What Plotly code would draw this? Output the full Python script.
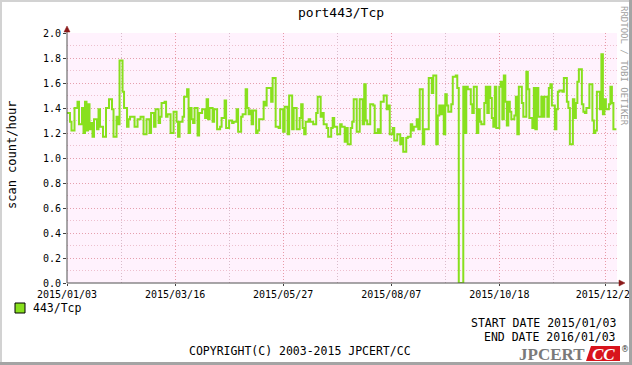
import pandas as pd
import plotly.graph_objects as go

# ---- data (day offset from 2015/01/03 where a step starts, value) ----
step_days = [0,2,3,5,7,8,10,11,12,13,14,15,16,17,18,20,21,22,24,26,28,30,31,33,34,35,37,38,40,41,42,45,47,49,51,53,55,56,58,59,61,62,
             63,65,66,67,69,71,73,74,75,77,78,80,81,82,83,84,85,87,88,90,92,93,94,95,97,98,100,102,103,105,106,108,110,111,113,114,116,117,119,120,121,122,123,
             124,126,127,128,131,132,133,136,137,139,141,142,144,145,147,148,150,151,153,155,156,157,158,159,161,162,164,166,167,169,170,171,173,174,176,177,178,180,182,183,185,
             186,187,189,190,191,193,195,197,198,199,200,202,204,205,207,208,209,211,213,214,215,217,218,220,222,223,224,226,227,229,230,231,233,234,235,237,238,239,241,243,244,246,247,
             248,249,250,251,252,253,254,256,257,259,260,261,264,265,266,267,269,270,271,273,274,275,276,278,279,280,281,282,283,284,285,286,288,289,290,291,292,293,294,295,296,298,299,300,301,303,304,306,307,308,310,
             311,312,313,314,316,317,318,320,321,322,323,325,326,327,328,330,331,333,334,335,337,338,339,340,341,343,344,345,346,348,350,351,352,353,355,356,357,358,359,361,362,363,364,366]
step_values = [1.36,1.29,1.22,1.40,1.45,1.27,1.40,1.20,1.45,1.22,1.43,1.23,1.28,1.17,1.31,1.23,1.39,1.25,1.17,1.40,1.47,1.39,1.17,1.33,1.27,1.78,1.53,1.40,1.25,1.31,1.33,1.25,1.31,1.33,1.19,1.31,1.20,1.36,1.25,1.39,1.28,1.33,
               1.44,1.45,1.33,1.35,1.20,1.37,1.29,1.17,1.29,1.33,1.49,1.55,1.20,1.40,1.31,1.28,1.40,1.18,1.36,1.39,1.32,1.47,1.31,1.40,1.29,1.39,1.23,1.25,1.32,1.46,1.24,1.30,1.28,1.29,1.39,1.21,1.33,1.35,1.55,1.40,1.35,1.38,1.27,
               1.38,1.20,1.22,1.31,1.45,1.42,1.56,1.45,1.64,1.25,1.24,1.39,1.21,1.41,1.19,1.50,1.23,1.40,1.23,1.32,1.43,1.24,1.19,1.29,1.31,1.29,1.27,1.36,1.49,1.33,1.36,1.27,1.24,1.17,1.24,1.32,1.25,1.19,1.27,1.25,1.13,
               1.24,1.11,1.24,1.29,1.47,1.21,1.47,1.27,1.59,1.30,1.27,1.43,1.42,1.20,1.23,1.20,1.45,1.50,1.39,1.42,1.19,1.24,1.14,1.19,1.11,1.16,1.05,1.16,1.17,1.27,1.22,1.25,1.31,1.23,1.55,1.11,1.23,1.23,1.64,1.52,1.66,1.11,1.34,
               1.42,1.35,1.42,1.19,1.51,1.42,1.37,1.43,1.65,1.66,1.56,0.0,1.57,1.20,1.57,1.55,1.43,1.36,1.57,1.20,1.39,1.29,1.27,1.44,1.57,1.36,1.57,1.48,1.32,1.25,1.57,1.24,1.57,1.61,1.31,1.66,1.45,1.26,1.45,1.37,1.31,1.34,1.49,1.19,1.57,1.44,1.33,1.69,1.55,1.32,1.24,
               1.56,1.23,1.56,1.33,1.49,1.33,1.49,1.33,1.56,1.59,1.42,1.23,1.39,1.53,1.54,1.53,1.64,1.45,1.40,1.11,1.47,1.32,1.44,1.61,1.71,1.43,1.37,1.36,1.40,1.59,1.30,1.20,1.22,1.53,1.39,1.83,1.35,1.47,1.39,1.43,1.57,1.44,1.23,1.23]

start_date = "2015-01-03"
x_tick_dates = ["2015-01-03", "2015-03-16", "2015-05-27", "2015-08-07", "2015-10-18", "2015-12-28"]
x_tick_labels = ["2015/01/03", "2015/03/16", "2015/05/27", "2015/08/07", "2015/10/18", "2015/12/28"]
x_minor_dates = ["2015-02-08", "2015-04-21", "2015-07-02", "2015-09-12", "2015-11-23"]
y_tick_vals = [0.0, 0.2, 0.4, 0.6, 0.8, 1.0, 1.2, 1.4, 1.6, 1.8, 2.0]
y_tick_labels = ["0.0", "0.2", "0.4", "0.6", "0.8", "1.0", "1.2", "1.4", "1.6", "1.8", "2.0"]

series_name = "443/Tcp"
title_text = "port443/Tcp"

base = pd.Timestamp(start_date)
xs = [base + pd.Timedelta(days=d) for d in step_days]

W, H = 632, 365
L, R, T, B = 67, 617, 33, 283
PW, PH = R - L, B - T


def px(x):
    return (x - L) / PW


def py(y):
    return (B - y) / PH


MONO = "DejaVu Sans Mono"
GREEN = "#88E01E"

fig = go.Figure()
fig.add_trace(go.Scatter(x=xs, y=step_values, mode="lines", line=dict(color=GREEN, width=2, shape="hv"),
                         name=series_name, showlegend=False, hoverinfo="skip"))

fig.update_layout(
    width=W, height=H, autosize=False,
    margin=dict(l=L, r=W - R, t=T, b=H - B, pad=0, autoexpand=False),
    paper_bgcolor="white",
    plot_bgcolor="#FFF2FD",
    font=dict(family=MONO, size=10, color="black"),
    showlegend=False,
)

fig.update_xaxes(
    type="date", automargin=False,
    range=[base, base + pd.Timedelta(days=366.4)],
    tickvals=x_tick_dates, ticktext=x_tick_labels,
    tickfont=dict(family=MONO, size=10, color="black"),
    ticks="outside", ticklen=2, tickcolor="#404040",
    ticklabeloverflow="allow",
    showgrid=True, gridcolor="#E89AA8", griddash="1px,2px", gridwidth=1,
    minor=dict(tickvals=x_minor_dates, showgrid=True, gridcolor="#D9BCCB", griddash="1px,2px", ticks=""),
    showline=False, zeroline=False, fixedrange=True,
)
fig.update_yaxes(
    range=[0, 2.0], automargin=False,
    tickvals=y_tick_vals, ticktext=y_tick_labels,
    tickfont=dict(family=MONO, size=10, color="black"),
    ticks="outside", ticklen=3, tickcolor="#404040",
    showgrid=True, gridcolor="#E6A0AE", griddash="1px,2px", gridwidth=1,
    minor=dict(dtick=0.1, showgrid=True, gridcolor="#EDC0CE", griddash="1px,2px", ticks=""),
    showline=False, zeroline=False, fixedrange=True,
)

shapes = []
# axes lines
shapes.append(dict(type="line", xref="paper", yref="paper", x0=0, x1=0, y0=0, y1=py(28),
                   line=dict(color="#505050", width=1), layer="above"))
shapes.append(dict(type="line", xref="paper", yref="paper", x0=0, x1=px(622), y0=0, y1=0,
                   line=dict(color="#505050", width=1), layer="above"))
# arrows
shapes.append(dict(type="path", xref="paper", yref="paper",
                   path=f"M {px(64)} {py(32)} L {px(70)} {py(32)} L {px(67)} {py(26)} Z",
                   fillcolor="#8B1A1A", line=dict(color="#8B1A1A", width=0.5), layer="above"))
shapes.append(dict(type="path", xref="paper", yref="paper",
                   path=f"M {px(619)} {py(280)} L {px(619)} {py(286)} L {px(625)} {py(283)} Z",
                   fillcolor="#8B1A1A", line=dict(color="#8B1A1A", width=0.5), layer="above"))
# legend swatch
shapes.append(dict(type="rect", xref="paper", yref="paper", x0=px(15), x1=px(25), y0=py(313), y1=py(303),
                   fillcolor=GREEN, line=dict(color="black", width=1)))
# JPCERT/CC red box
shapes.append(dict(type="path", xref="paper", yref="paper",
                   path=f"M {px(591)} {py(346)} L {px(620)} {py(346)} L {px(620)} {py(361)} L {px(586)} {py(361)} Z",
                   fillcolor="#D8141C", line=dict(width=0)))
# frame
shapes.append(dict(type="rect", xref="paper", yref="paper", x0=px(0), x1=px(632), y0=py(2), y1=py(0),
                   fillcolor="#D2D2D2", line=dict(width=0), layer="above"))
shapes.append(dict(type="rect", xref="paper", yref="paper", x0=px(0), x1=px(2), y0=py(365), y1=py(0),
                   fillcolor="#D2D2D2", line=dict(width=0), layer="above"))
shapes.append(dict(type="rect", xref="paper", yref="paper", x0=px(629), x1=px(632), y0=py(365), y1=py(0),
                   fillcolor="#A4A4A4", line=dict(width=0), layer="above"))
shapes.append(dict(type="rect", xref="paper", yref="paper", x0=px(0), x1=px(632), y0=py(365), y1=py(362),
                   fillcolor="#A4A4A4", line=dict(width=0), layer="above"))
fig.update_layout(shapes=shapes)

ann = []


def text(x, y, s, size=11, xanchor="center", color="black", angle=0, family=MONO, yanchor="middle"):
    ann.append(dict(x=px(x), y=py(y), xref="paper", yref="paper", text=s, showarrow=False,
                    xanchor=xanchor, yanchor=yanchor, textangle=angle,
                    font=dict(family=family, size=size, color=color)))


text(341, 13, title_text, size=13)
text(12, 155, "scan count/hour", size=12, angle=-90)
text(624, 66, "RRDTOOL / TOBI OETIKER", size=9, color="#A0A0A0", angle=90)
text(31, 308, series_name, size=11.5, xanchor="left")
text(618, 323, "START DATE 2015/01/03", size=11.5, xanchor="right")
text(618, 337, "END DATE 2016/01/03", size=11.5, xanchor="right")
text(300, 351, "COPYRIGHT(C) 2003-2015 JPCERT/CC", size=11.5)
text(587, 354, "<b>JPCERT</b>", size=17, xanchor="right", color="#7A7A7A", family="Liberation Serif")
text(603, 354, "<b><i>CC</i></b>", size=17, color="white", family="Liberation Serif")
text(625, 349, "®", size=8, color="#333333", family="DejaVu Sans")
fig.update_layout(annotations=ann)

fig.write_html("out.html", config={"displayModeBar": False, "responsive": False},
               post_script="document.body.style.margin='0';document.body.style.overflow='hidden';")
